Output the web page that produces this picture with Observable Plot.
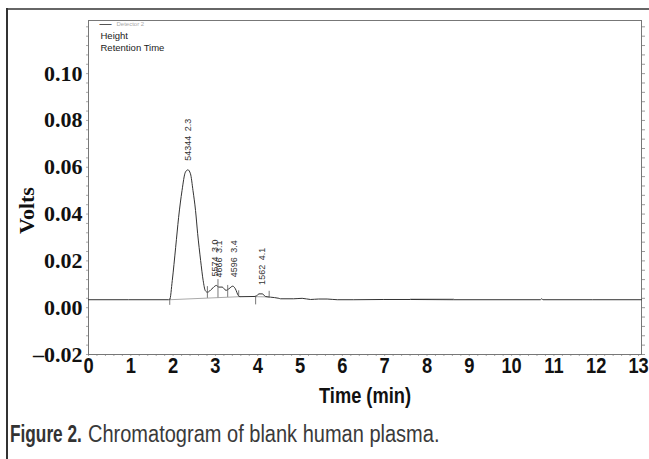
<!DOCTYPE html>
<html>
<head>
<meta charset="utf-8">
<script src="https://cdn.jsdelivr.net/npm/d3@7"></script>
<script src="https://cdn.jsdelivr.net/npm/@observablehq/plot@0.6"></script>
<style>
  body { margin: 0; background: #fff; width: 649px; height: 459px; overflow: hidden; position: relative; }
  #frameTop { position: absolute; left: 6px; top: 8px; width: 643px; height: 0; border-top: 2px solid #666; }
  #frameLeft { position: absolute; left: 6px; top: 8px; width: 0; height: 451px; border-left: 2px solid #333; }
  #chart { position: absolute; left: 0; top: 0; }
  .cap { position: absolute; top: 421px; font-family: "Liberation Sans", Arial, sans-serif; font-size: 23px; line-height: 1.2; color: #3a3a3a; white-space: nowrap; transform-origin: 0 50%; }
  #capBold { left: 10px; font-weight: bold; color: #333; transform: scaleX(0.75); }
  #capText { left: 88px; transform: scaleX(0.87); }
</style>
</head>
<body>
<div id="frameTop"></div>
<div id="frameLeft"></div>
<div id="chart"></div>
<div class="cap" id="capBold">Figure 2.</div>
<div class="cap" id="capText">Chromatogram of blank human plasma.</div>
<script>
// ---- data ----
const times = [0, 1.89, 1.92, 1.98, 2.06, 2.13, 2.21, 2.29, 2.35, 2.41, 2.47, 2.53, 2.58, 2.65, 2.71, 2.76, 2.81, 2.92, 3.02, 3.08, 3.16, 3.25, 3.32, 3.41, 3.47, 3.54, 3.58, 3.95, 4.03, 4.11, 4.18, 4.30, 4.50, 4.54, 4.85, 5.05, 5.25, 5.44, 5.64, 5.88, 6.27, 6.98, 7.61, 8.63, 10.68, 10.71, 10.74, 13.07];
const volts = [0.0034, 0.0034, 0.0035, 0.0116, 0.0258, 0.0386, 0.0500, 0.0579, 0.0589, 0.0572, 0.0500, 0.0415, 0.0316, 0.0202, 0.0116, 0.0073, 0.0066, 0.0081, 0.0095, 0.0088, 0.0088, 0.0074, 0.0081, 0.0092, 0.0081, 0.0052, 0.0047, 0.0048, 0.0059, 0.0059, 0.0048, 0.0045, 0.0040, 0.0038, 0.0038, 0.0040, 0.0035, 0.0037, 0.0037, 0.0034, 0.0034, 0.0035, 0.0035, 0.0034, 0.0034, 0.0038, 0.0034, 0.0034];

// integration baselines (segment id, time, volts)
const baseSeg = ["A", "A", "B", "B", "C", "C"];
const baseTimes = [1.92, 3.58, 3.95, 4.27, 7.61, 8.63];
const baseVolts = [0.0034, 0.0047, 0.0047, 0.0046, 0.0037, 0.0037];

// peak boundary markers
const markTimes = [1.92, 2.81, 3.06, 3.29, 3.55, 3.95, 4.27];
const markHi = [0.0038, 0.0090, 0.0120, 0.0095, 0.0072, 0.0050, 0.0070];
const markLo = [0.0010, 0.0040, 0.0042, 0.0044, 0.0046, 0.0012, 0.0045];

// peak annotations
const peakTimes = [2.35, 3.00, 3.08, 3.43, 4.10];
const peakApex = [0.0589, 0.0095, 0.0090, 0.0092, 0.0059];
const peakHeights = ["54344", "5574", "4666", "4596", "1562"];
const peakRT = ["2.3", "3.0", "3.1", "3.4", "4.1"];

// axes
const xTicks = [0, 1, 2, 3, 4, 5, 6, 7, 8, 9, 10, 11, 12, 13];
const xTickLabels = ["0", "1", "2", "3", "4", "5", "6", "7", "8", "9", "10", "11", "12", "13"];
const yTicks = [-0.02, 0, 0.02, 0.04, 0.06, 0.08, 0.10];
const yTickLabels = ["\u20130.02", "0.00", "0.02", "0.04", "0.06", "0.08", "0.10"];
const xLabel = "Time (min)";
const yLabel = "Volts";
const legendSeries = "Detector 2";
const legendLines = ["Height", "Retention Time"];

// ---- tables ----
const trace = times.map((t, i) => ({t, v: volts[i]}));
const bases = baseTimes.map((t, i) => ({t, v: baseVolts[i], seg: baseSeg[i]}));
const marks = markTimes.map((t, i) => ({t, hi: markHi[i], lo: markLo[i]}));
const peaks = peakTimes.map((t, i) => ({t, v: peakApex[i], label: peakHeights[i] + "\u2002" + peakRT[i]}));

const minorY = d3.range(-0.02, 0.1227, 0.004);
const minorX = d3.range(0, 13.07, 0.2);

const serifBold = "'Liberation Serif', 'DejaVu Serif', serif";
const narrow = "'Liberation Sans', 'Arial Narrow', sans-serif";
const arial = "'Liberation Sans', Arial, sans-serif";

const chart = Plot.plot({
  width: 649,
  height: 412,
  marginLeft: 88,
  marginRight: 8,
  marginTop: 20,
  marginBottom: 58,
  style: {background: "transparent", overflow: "visible"},
  x: {domain: [0, 13.07]},
  y: {domain: [-0.02, 0.1227]},
  marks: [
    // minor ticks around the frame
    Plot.axisY({anchor: "right", ticks: minorY, tickSize: 3, text: null, stroke: "#999", label: null}),
    Plot.axisY({anchor: "left", ticks: minorY, tickSize: 2, text: null, stroke: "#aaa", label: null}),
    Plot.axisX({anchor: "bottom", ticks: minorX, tickSize: 2, text: null, stroke: "#aaa", label: null}),
    Plot.frame({stroke: "#777", strokeWidth: 1}),
    // main axes labels
    Plot.axisY({
      anchor: "left", ticks: yTicks, tickSize: 0, tickPadding: 6,
      tickFormat: d => yTickLabels[yTicks.indexOf(d)],
      fontSize: 22, fontWeight: "bold", fontFamily: serifBold, fill: "#111", label: null
    }),
    Plot.axisX({
      anchor: "bottom", ticks: xTicks, tickSize: 0, tickPadding: 3,
      tickFormat: d => xTickLabels[xTicks.indexOf(d)],
      fontSize: 22, fontWeight: "bold", fontFamily: narrow, fill: "#111", label: null
    }),
    Plot.text([yLabel], {text: d => d, frameAnchor: "left", textAnchor: "middle", lineAnchor: "middle",
      rotate: -90, dx: -62, dy: 23,
      fontSize: 22, fontWeight: "bold", fontFamily: serifBold, fill: "#111"}),
    Plot.text([xLabel], {text: d => d, frameAnchor: "bottom", textAnchor: "middle", lineAnchor: "middle", dy: 41,
      fontSize: 22, fontWeight: "bold", fontFamily: narrow, fill: "#111"}),
    // legend
    Plot.text(["\u2014"], {text: d => d, frameAnchor: "top-left", textAnchor: "start", lineAnchor: "middle", dx: 11, dy: 4,
      fontSize: 12, fill: "#555", fontFamily: arial}),
    Plot.text([legendSeries], {text: d => d, frameAnchor: "top-left", textAnchor: "start", lineAnchor: "middle", dx: 28, dy: 4,
      fontSize: 6, fill: "#aaa", fontFamily: arial}),
    Plot.text([legendLines[0]], {text: d => d, frameAnchor: "top-left", textAnchor: "start", lineAnchor: "middle", dx: 12, dy: 15,
      fontSize: 9.5, fill: "#222", fontFamily: arial}),
    Plot.text([legendLines[1]], {text: d => d, frameAnchor: "top-left", textAnchor: "start", lineAnchor: "middle", dx: 12, dy: 27,
      fontSize: 9.5, fill: "#222", fontFamily: arial}),
    // integration baselines
    Plot.line(bases, {x: "t", y: "v", z: "seg", stroke: "#aaa", strokeWidth: 1}),
    // signal
    Plot.line(trace, {x: "t", y: "v", stroke: "#333", strokeWidth: 1, curve: "monotone-x"}),
    // peak boundary markers
    Plot.ruleX(marks, {x: "t", y1: "lo", y2: "hi", stroke: "#555", strokeWidth: 0.8}),
    // peak labels
    Plot.text(peaks, {x: "t", y: "v", text: "label", rotate: -90, textAnchor: "start", lineAnchor: "middle", dy: -9,
      fontSize: 9, fontFamily: arial, fill: "#333"})
  ]
});
document.getElementById("chart").appendChild(chart);

// condense the bold sans texts (the original uses a condensed face)
chart.querySelectorAll("g").forEach(g => {
  if (g.getAttribute("font-family") === narrow) {
    g.querySelectorAll("text").forEach(t => {
      const w = t.getComputedTextLength();
      t.setAttribute("textLength", (w * 0.83).toFixed(1));
      t.setAttribute("lengthAdjust", "spacingAndGlyphs");
    });
  }
});
</script>
</body>
</html>
